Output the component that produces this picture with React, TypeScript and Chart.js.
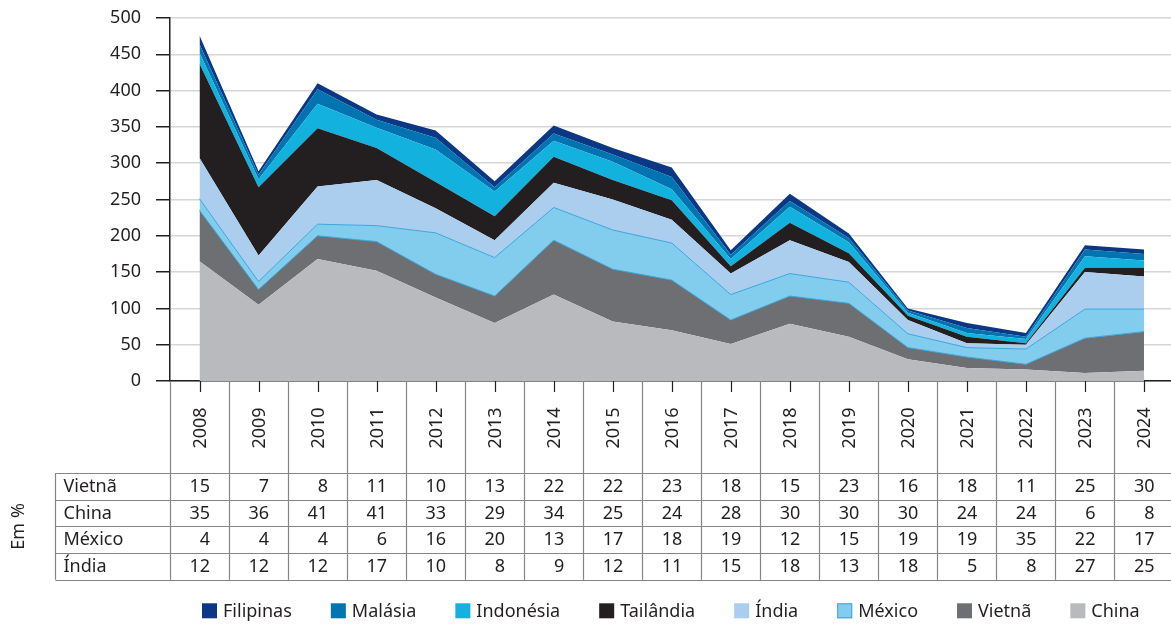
import React, { useEffect, useRef } from "react";
import { Chart, registerables } from "chart.js";

Chart.register(...registerables);

// ---- Data ----
const years = ["2008", "2009", "2010", "2011", "2012", "2013", "2014", "2015", "2016", "2017", "2018", "2019", "2020", "2021", "2022", "2023", "2024"];

// Stacked area values
const china = [165, 105, 168, 152, 115, 80, 119, 82, 70, 51, 79, 61, 30, 18, 16, 11, 14];
const vietna = [70, 21, 32, 40, 32, 37, 75, 72, 69, 33, 38, 46, 16, 15, 7, 48, 54];
const mexico = [16, 11, 16, 22, 57, 53, 45, 54, 51, 35, 31, 29, 19, 13, 21, 40, 31];
const india = [56, 36, 52, 63, 34, 24, 34, 42, 32, 29, 46, 28, 19, 6, 6, 51, 45];
const tailandia = [130, 94, 80, 44, 36, 33, 36, 27, 27, 10, 24, 12, 6, 9, 2, 6, 12];
const indonesia = [15, 11, 34, 28, 45, 34, 22, 25, 15, 10, 22, 15, 4, 5, 6, 16, 10];
const malasia = [12, 6, 20, 11, 16, 6, 10, 10, 17, 6, 8, 6, 3, 7, 3, 9, 9];
const filipinas = [12, 5, 8, 7, 10, 8, 11, 9, 13, 6, 10, 6, 3, 7, 5, 6, 6];

// Table (Em %)
const vietnaPct = [15, 7, 8, 11, 10, 13, 22, 22, 23, 18, 15, 23, 16, 18, 11, 25, 30];
const chinaPct = [35, 36, 41, 41, 33, 29, 34, 25, 24, 28, 30, 30, 30, 24, 24, 6, 8];
const mexicoPct = [4, 4, 4, 6, 16, 20, 13, 17, 18, 19, 12, 15, 19, 19, 35, 22, 17];
const indiaPct = [12, 12, 12, 17, 10, 8, 9, 12, 11, 15, 18, 13, 18, 5, 8, 27, 25];
const tableLabels = ["Vietnã", "China", "México", "Índia"];
const unitLabel = "Em %";

const FONT = "'Noto Sans', 'Open Sans', sans-serif";
const FS = 18;
const TEXT = "#231f20";

const tableRows = [vietnaPct, chinaPct, mexicoPct, indiaPct];

const tablePlugin = {
  id: "tableAndLegend",
  afterDraw(chart: any) {
    const ctx = chart.ctx as CanvasRenderingContext2D;
    const xs = chart.scales.x;
    const area = chart.chartArea;
    const n = years.length;
    const step = xs.getPixelForValue(1) - xs.getPixelForValue(0);
    const top = area.bottom;
    const headerBottom = top + 92;
    const rowH = 26.7;
    const bottom = headerBottom + rowH * tableRows.length;
    const labelLeft = 55.5;

    ctx.save();
    // column boundaries
    ctx.strokeStyle = "#858585";
    ctx.lineWidth = 1.2;
    for (let i = 0; i <= n; i++) {
      const bx = Math.round(xs.getPixelForValue(0) - step / 2 + i * step) + 0.5;
      ctx.beginPath();
      ctx.moveTo(bx, top);
      ctx.lineTo(bx, bottom);
      ctx.stroke();
    }
    // label column left border
    ctx.beginPath();
    ctx.moveTo(labelLeft, headerBottom);
    ctx.lineTo(labelLeft, bottom);
    ctx.stroke();
    // row lines
    for (let r = 0; r <= tableRows.length; r++) {
      const y = Math.round(headerBottom + r * rowH) + 0.5;
      ctx.beginPath();
      ctx.moveTo(labelLeft, y);
      ctx.lineTo(chart.width, y);
      ctx.stroke();
    }
    // short ticks at category centres
    ctx.strokeStyle = TEXT;
    ctx.lineWidth = 1.2;
    for (let i = 0; i < n; i++) {
      const cx = Math.round(xs.getPixelForValue(i)) + 0.5;
      ctx.beginPath();
      ctx.moveTo(cx, top);
      ctx.lineTo(cx, top + 11);
      ctx.stroke();
    }

    ctx.fillStyle = TEXT;
    ctx.font = `${FS}px ${FONT}`;
    // years (rotated)
    for (let i = 0; i < n; i++) {
      const cx = xs.getPixelForValue(i);
      ctx.save();
      ctx.translate(cx + 1, top + 47);
      ctx.rotate(-Math.PI / 2);
      ctx.textAlign = "center";
      ctx.textBaseline = "middle";
      ctx.fillText(years[i], 0, 0);
      ctx.restore();
    }
    // rows
    ctx.textBaseline = "middle";
    tableRows.forEach((vals, r) => {
      const cy = headerBottom + r * rowH + rowH / 2 + 0.5;
      ctx.textAlign = "left";
      ctx.fillText(tableLabels[r], labelLeft + 8, cy);
      ctx.textAlign = "right";
      vals.forEach((v, i) => {
        ctx.fillText(String(v), xs.getPixelForValue(i) + 10.5, cy);
      });
    });
    // unit label
    ctx.save();
    ctx.translate(19, (headerBottom + bottom) / 2);
    ctx.rotate(-Math.PI / 2);
    ctx.textAlign = "center";
    ctx.textBaseline = "middle";
    ctx.fillText(unitLabel, 0, 0);
    ctx.restore();

    // legend
    const items = chart.data.datasets.slice().reverse();
    const box = 15;
    const gapText = 6;
    const gapItem = 39;
    let lx = 202;
    const ly = bottom + 31;
    ctx.textAlign = "left";
    items.forEach((d: any) => {
      ctx.fillStyle = d.backgroundColor;
      ctx.fillRect(lx, ly - box / 2, box, box);
      if (d.legendStroke) {
        ctx.strokeStyle = d.legendStroke;
        ctx.lineWidth = 1;
        ctx.strokeRect(lx + 0.5, ly - box / 2 + 0.5, box - 1, box - 1);
      }
      ctx.fillStyle = TEXT;
      ctx.fillText(d.label, lx + box + gapText, ly + 1);
      lx += box + gapText + ctx.measureText(d.label).width + gapItem;
    });
    ctx.restore();
  },
};

export default function App() {
  const ref = useRef<HTMLCanvasElement | null>(null);

  useEffect(() => {
    document.body.style.margin = "0";
    if (!ref.current) return;
    const mk = (label: string, data: number[], color: string, fill: any, border?: string) => ({
      label,
      data,
      backgroundColor: color,
      borderColor: border || color,
      borderWidth: border ? 1 : 0,
      fill,
      pointRadius: 0,
      tension: 0,
      legendStroke: label === "México" ? "#3aa6dc" : undefined,
    });
    const chart = new Chart(ref.current, {
      type: "line",
      data: {
        labels: years,
        datasets: [
          mk("China", china, "#b9babe", "origin"),
          mk("Vietnã", vietna, "#6e6f73", "-1", "#3aa6dc"),
          mk("México", mexico, "#82cdee", "-1", "#3aa6dc"),
          mk("Índia", india, "#abcdee", "-1"),
          mk("Tailândia", tailandia, "#231f20", "-1"),
          mk("Indonésia", indonesia, "#13b1de", "-1"),
          mk("Malásia", malasia, "#0073b1", "-1"),
          mk("Filipinas", filipinas, "#0b3784", "-1"),
        ] as any,
      },
      options: {
        responsive: false,
        animation: false,
        devicePixelRatio: 1,
        layout: { padding: { top: 18, right: 2.5, bottom: 43, left: 0 } },
        plugins: { legend: { display: false }, tooltip: { enabled: false } },
        scales: {
          x: {
            type: "category",
            offset: true,
            grid: { display: false },
            border: { display: true, color: TEXT, width: 1.5 },
            ticks: { display: false },
            afterFit: (s: any) => {
              s.height = 200;
              s.paddingLeft = 0;
              s.paddingRight = 0;
            },
          },
          y: {
            stacked: true,
            min: 0,
            max: 500,
            ticks: { stepSize: 50, color: TEXT, padding: 15, font: { size: FS, family: FONT } },
            grid: { color: "#d6d6d6", lineWidth: 1.5, tickColor: TEXT, tickLength: 14, drawTicks: true },
            border: { display: true, color: TEXT, width: 1.5 },
            afterFit: (s: any) => {
              s.width = 170;
              s.paddingTop = 0;
              s.paddingBottom = 0;
            },
          },
        },
      },
      plugins: [tablePlugin],
    } as any);
    return () => chart.destroy();
  }, []);

  return (
    <div style={{ position: "absolute", left: 0, top: 0, width: 1171, height: 624, overflow: "hidden", background: "#fff" }}>
      <canvas ref={ref} width={1176} height={624} style={{ display: "block" }} />
    </div>
  );
}
